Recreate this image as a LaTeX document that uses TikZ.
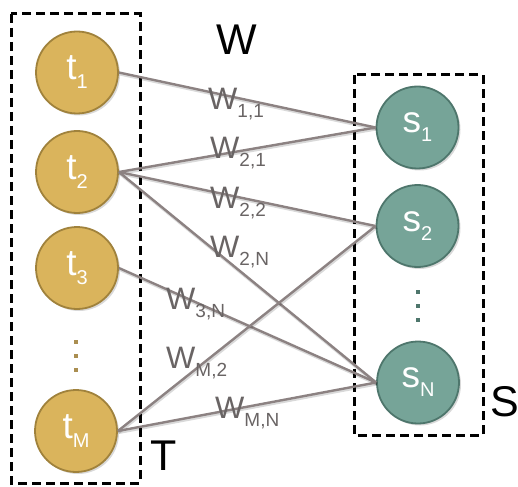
\documentclass[tikz,border=0pt]{standalone}
\usepackage{fontspec}
\setmainfont{Liberation Sans}
\usetikzlibrary{shadows}

\definecolor{tfill}{RGB}{218,180,92}
\definecolor{tdraw}{RGB}{160,130,60}
\definecolor{sfill}{RGB}{118,164,152}
\definecolor{sdraw}{RGB}{78,118,108}
\definecolor{edgecol}{RGB}{140,130,130}
\definecolor{labcol}{RGB}{105,100,100}

% node caption: big letter with a lowered index
\newcommand{\nodelab}[2]{{\fontsize{37}{37}\selectfont #1}\raisebox{-9pt}{\fontsize{20}{20}\selectfont #2}}
% weight caption on a connector
\newcommand{\wlab}[1]{{\fontsize{31}{31}\selectfont W}\raisebox{-8pt}{\fontsize{19}{19}\selectfont #1}}

\tikzset{
  unit/.style={circle, minimum size=82pt, inner sep=0pt, line width=1.8pt,
    text=white, drop shadow={opacity=0.3, shadow xshift=2pt, shadow yshift=-2pt}},
  tunit/.style={unit, fill=tfill, draw=tdraw},
  sunit/.style={unit, fill=sfill, draw=sdraw},
  group/.style={draw=black, line width=3pt, dash pattern=on 9pt off 5pt},
  link/.style={draw=edgecol, line width=2.4pt,
    preaction={draw=black, opacity=0.15, line width=3pt, transform canvas={xshift=0.8pt, yshift=-1.5pt}}},
  wlabel/.style={anchor=base west, inner sep=0pt, text=labcol},
  bigtext/.style={anchor=base west, inner sep=0pt, font=\fontsize{43}{43}\selectfont},
  dot/.style={minimum size=4.5pt, inner sep=0pt},
}

\begin{document}
\begin{tikzpicture}[x=1pt, y=-1pt]
\useasboundingbox (0,0) rectangle (518,486);

% groups
\draw[group] (11,14) rectangle (140,483);
\draw[group] (354,75) rectangle (483,435);

% source units
\node[tunit] (t1) at (77,72.5)  {\nodelab{t}{1}};
\node[tunit] (t2) at (77,172)   {\nodelab{t}{2}};
\node[tunit] (t3) at (77,268)   {\nodelab{t}{3}};
\node[tunit] (tM) at (76,431)   {\nodelab{t}{M}};

% target units
\node[sunit] (s1) at (417.5,127.5) {\nodelab{s}{1}};
\node[sunit] (s2) at (417.5,226)   {\nodelab{s}{2}};
\node[sunit] (sN) at (418,382.5)   {\nodelab{s}{N}};

% ellipsis dots
\foreach \yy/\nm in {342/ta,356/tb,370/tc}
  \node[dot, fill=tdraw!90] (\nm) at (76,\yy) {};
\foreach \yy/\nm in {292/sa,306/sb,320/sc}
  \node[dot, fill=sdraw] (\nm) at (418,\yy) {};

% connectors
\path[link] (t1.east) -- (s1.west);
\path[link] (t2.east) -- (s1.west);
\path[link] (t2.east) -- (s2.west);
\path[link] (t2.east) -- (sN.west);
\path[link] (t3.east) -- (sN.west);
\path[link] (tM.east) -- (s2.west);
\path[link] (tM.east) -- (sN.west);

% weight captions
\node[wlabel] (w11) at (208,110) {\wlab{1,1}};
\node[wlabel] (w21) at (210,159) {\wlab{2,1}};
\node[wlabel] (w22) at (210,208) {\wlab{2,2}};
\node[wlabel] (w2N) at (210,257) {\wlab{2,N}};
\node[wlabel] (w3N) at (166,309) {\wlab{3,N}};
\node[wlabel] (wM2) at (166,368) {\wlab{M,2}};
\node[wlabel] (wMN) at (215,418) {\wlab{M,N}};

% titles
\node[bigtext] (W) at (216,55)  {W};
\node[bigtext] (T) at (150,470) {T};
\node[bigtext] (S) at (490,416) {S};
\end{tikzpicture}
\end{document}
